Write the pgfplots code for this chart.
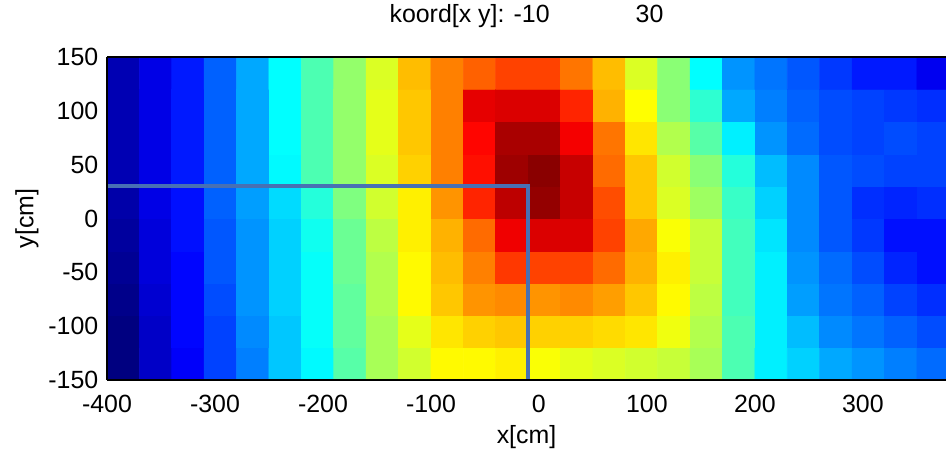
\documentclass[border=0pt]{standalone}
\usepackage{fontspec}
\setmainfont{Liberation Sans}
\usepackage{pgfplots}
\pgfplotsset{compat=1.18}
\definecolor{linecol}{RGB}{72,112,180}
\newcommand\ff{\fontsize{12.5}{15}\selectfont}
\begin{document}
\ff
\begin{tikzpicture}
\path[use as bounding box] (-53.5bp,-35.5bp) rectangle (419.5bp,190bp);
\begin{axis}[
 at={(0,0)}, anchor=south west,
 width=419.5bp, height=161.5bp, scale only axis,
 xmin=-400, xmax=377, ymin=-150, ymax=150,
 axis x line*=box, axis y line*=left,
 axis line style={-, black, line width=0.6bp},
 xtick={-400,-300,...,300}, ytick={-150,-100,...,150},
 major tick length=0pt,
 /pgf/number format/assume math mode=true,
 tick label style={font=\ff},
 xticklabel style={yshift=-3bp},
 colormap/jet, point meta min=0, point meta max=1,
 title={koord[x y]: -10\hspace{43bp}30},
 title style={font=\ff, at={(axis description cs:0.5,1.0712)}, anchor=base},
 xlabel={x[cm]}, ylabel={y[cm]},
 xlabel style={font=\ff, at={(axis description cs:0.5,-0.1765)}, anchor=center},
 ylabel style={font=\ff, at={(axis description cs:-0.0954,0.5)}, anchor=center},
 axis on top,
]
\addplot[matrix plot*, mesh/cols=26, point meta=explicit, draw=mapped color, line width=0.3pt]
 table[meta=z, row sep=\\] {
x y z\\
-385 -135 0.00\\ -355 -135 0.07\\ -325 -135 0.12\\ -295 -135 0.19\\ -265 -135 0.25\\ -235 -135 0.32\\ -205 -135 0.37\\ -175 -135 0.46\\ -145 -135 0.54\\ -115 -135 0.58\\ -85 -135 0.63\\ -55 -135 0.63\\ -25 -135 0.64\\ 5 -135 0.62\\ 35 -135 0.60\\ 65 -135 0.59\\ 95 -135 0.58\\ 125 -135 0.57\\ 155 -135 0.54\\ 185 -135 0.45\\ 215 -135 0.36\\ 245 -135 0.33\\ 275 -135 0.29\\ 305 -135 0.27\\ 335 -135 0.25\\ 365 -135 0.23\\
-385 -105 0.00\\ -355 -105 0.07\\ -325 -105 0.13\\ -295 -105 0.19\\ -265 -105 0.26\\ -235 -105 0.32\\ -205 -105 0.38\\ -175 -105 0.47\\ -145 -105 0.54\\ -115 -105 0.60\\ -85 -105 0.65\\ -55 -105 0.67\\ -25 -105 0.68\\ 5 -105 0.67\\ 35 -105 0.67\\ 65 -105 0.66\\ 95 -105 0.65\\ 125 -105 0.61\\ 155 -105 0.55\\ 185 -105 0.45\\ 215 -105 0.36\\ 245 -105 0.31\\ 275 -105 0.26\\ 305 -105 0.24\\ 335 -105 0.22\\ 365 -105 0.20\\
-385 -75 0.01\\ -355 -75 0.08\\ -325 -75 0.13\\ -295 -75 0.20\\ -265 -75 0.27\\ -235 -75 0.33\\ -205 -75 0.38\\ -175 -75 0.47\\ -145 -75 0.55\\ -115 -75 0.63\\ -85 -75 0.68\\ -55 -75 0.73\\ -25 -75 0.74\\ 5 -75 0.73\\ 35 -75 0.74\\ 65 -75 0.72\\ 95 -75 0.68\\ 125 -75 0.63\\ 155 -75 0.56\\ 185 -75 0.44\\ 215 -75 0.36\\ 245 -75 0.28\\ 275 -75 0.24\\ 305 -75 0.22\\ 335 -75 0.19\\ 365 -75 0.17\\
-385 -45 0.02\\ -355 -45 0.09\\ -325 -45 0.13\\ -295 -45 0.21\\ -265 -45 0.27\\ -235 -45 0.33\\ -205 -45 0.38\\ -175 -45 0.48\\ -145 -45 0.55\\ -115 -45 0.63\\ -85 -45 0.69\\ -55 -45 0.75\\ -25 -45 0.82\\ 5 -45 0.81\\ 35 -45 0.81\\ 65 -45 0.77\\ 95 -45 0.70\\ 125 -45 0.64\\ 155 -45 0.57\\ 185 -45 0.44\\ 215 -45 0.36\\ 245 -45 0.27\\ 275 -45 0.23\\ 305 -45 0.20\\ 335 -45 0.16\\ 365 -45 0.14\\
-385 -15 0.03\\ -355 -15 0.09\\ -325 -15 0.14\\ -295 -15 0.21\\ -265 -15 0.27\\ -235 -15 0.33\\ -205 -15 0.39\\ -175 -15 0.48\\ -145 -15 0.56\\ -115 -15 0.64\\ -85 -15 0.70\\ -55 -15 0.77\\ -25 -15 0.89\\ 5 -15 0.91\\ 35 -15 0.91\\ 65 -15 0.81\\ 95 -15 0.71\\ 125 -15 0.62\\ 155 -15 0.57\\ 185 -15 0.44\\ 215 -15 0.35\\ 245 -15 0.26\\ 275 -15 0.21\\ 305 -15 0.18\\ 335 -15 0.14\\ 365 -15 0.14\\
-385 15 0.04\\ -355 15 0.10\\ -325 15 0.14\\ -295 15 0.22\\ -265 15 0.28\\ -235 15 0.34\\ -205 15 0.41\\ -175 15 0.50\\ -145 15 0.58\\ -115 15 0.64\\ -85 15 0.73\\ -55 15 0.84\\ -25 15 0.94\\ 5 15 0.98\\ 35 15 0.93\\ 65 15 0.80\\ 95 15 0.68\\ 125 15 0.59\\ 155 15 0.53\\ 185 15 0.43\\ 215 15 0.33\\ 245 15 0.26\\ 275 15 0.21\\ 305 15 0.17\\ 335 15 0.16\\ 365 15 0.17\\
-385 45 0.05\\ -355 45 0.10\\ -325 45 0.15\\ -295 45 0.22\\ -265 45 0.29\\ -235 45 0.37\\ -205 45 0.45\\ -175 45 0.52\\ -145 45 0.59\\ -115 45 0.67\\ -85 45 0.75\\ -55 45 0.86\\ -25 45 0.97\\ 5 45 0.99\\ 35 45 0.93\\ 65 45 0.77\\ 95 45 0.68\\ 125 45 0.58\\ 155 45 0.51\\ 185 45 0.41\\ 215 45 0.31\\ 245 45 0.26\\ 275 45 0.21\\ 305 45 0.20\\ 335 45 0.19\\ 365 45 0.19\\
-385 75 0.05\\ -355 75 0.10\\ -325 75 0.15\\ -295 75 0.22\\ -265 75 0.29\\ -235 75 0.375\\ -205 75 0.45\\ -175 75 0.52\\ -145 75 0.60\\ -115 75 0.68\\ -85 75 0.75\\ -55 75 0.87\\ -25 75 0.96\\ 5 75 0.96\\ 35 75 0.885\\ 65 75 0.76\\ 95 75 0.65\\ 125 75 0.55\\ 155 75 0.46\\ 185 75 0.36\\ 215 75 0.27\\ 245 75 0.23\\ 275 75 0.20\\ 305 75 0.19\\ 335 75 0.20\\ 365 75 0.19\\
-385 105 0.05\\ -355 105 0.10\\ -325 105 0.15\\ -295 105 0.22\\ -265 105 0.29\\ -235 105 0.375\\ -205 105 0.45\\ -175 105 0.52\\ -145 105 0.60\\ -115 105 0.68\\ -85 105 0.75\\ -55 105 0.90\\ -25 105 0.91\\ 5 105 0.91\\ 35 105 0.84\\ 65 105 0.70\\ 95 105 0.625\\ 125 105 0.51\\ 155 105 0.42\\ 185 105 0.29\\ 215 105 0.25\\ 245 105 0.22\\ 275 105 0.20\\ 305 105 0.19\\ 335 105 0.18\\ 365 105 0.17\\
-385 135 0.05\\ -355 135 0.10\\ -325 135 0.15\\ -295 135 0.22\\ -265 135 0.29\\ -235 135 0.375\\ -205 135 0.45\\ -175 135 0.52\\ -145 135 0.59\\ -115 135 0.69\\ -85 135 0.75\\ -55 135 0.78\\ -25 135 0.81\\ 5 135 0.81\\ 35 135 0.76\\ 65 135 0.69\\ 95 135 0.59\\ 125 135 0.51\\ 155 135 0.375\\ 185 135 0.27\\ 215 135 0.24\\ 245 135 0.21\\ 275 135 0.18\\ 305 135 0.15\\ 335 135 0.15\\ 365 135 0.11\\
};
\addplot[linecol, line width=2bp, no marks] coordinates {(-400,30) (-10,30) (-10,-150)};
\end{axis}
\end{tikzpicture}
\end{document}
